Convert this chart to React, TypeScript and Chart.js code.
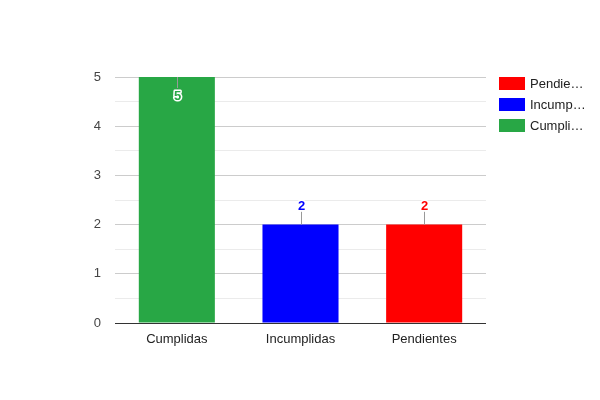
import React, { useEffect, useRef } from "react";
import { Chart, registerables } from "chart.js";

Chart.register(...registerables);

const categories = ["Cumplidas", "Incumplidas", "Pendientes"];
const values = [5, 2, 2];
const seriesColors = ["#28a745", "#0000ff", "#ff0000"];
const legendLabels = ["Pendie…", "Incump…", "Cumpli…"];
const yTicks = [0, 1, 2, 3, 4, 5];

const FONT = "Arial, 'Liberation Sans', sans-serif";

const annotationPlugin = {
  id: "annots",
  afterDatasetsDraw(chart: any) {
    const ctx = chart.ctx;
    const area = chart.chartArea;
    ctx.save();
    chart.data.datasets.forEach((ds: any, di: number) => {
      const meta = chart.getDatasetMeta(di);
      meta.data.forEach((el: any, i: number) => {
        const v = ds.data[i];
        if (v === null || v === undefined) return;
        const x = Math.round(el.x) + 0.5;
        const y = el.y;
        const room = y - area.top;
        let textY: number;
        ctx.strokeStyle = "#999999";
        ctx.lineWidth = 1;
        ctx.beginPath();
        if (room > 25) {
          ctx.moveTo(x, y);
          ctx.lineTo(x, y - 13);
          textY = y - 18;
        } else {
          ctx.moveTo(x, y);
          ctx.lineTo(x, y + 11);
          textY = y + 19;
        }
        ctx.stroke();
        ctx.font = "bold 13px " + FONT;
        ctx.textAlign = "center";
        ctx.textBaseline = "middle";
        ctx.lineWidth = 3;
        ctx.strokeStyle = "#ffffff";
        ctx.lineJoin = "round";
        ctx.strokeText(String(v), x, textY);
        ctx.fillStyle = ds.backgroundColor;
        ctx.fillText(String(v), x, textY);
      });
    });
    // legend
    const order = [2, 1, 0];
    order.forEach((di, k) => {
      const ds = chart.data.datasets[di];
      const top = 77 + k * 21;
      ctx.fillStyle = ds.backgroundColor;
      ctx.fillRect(499, top, 26, 13);
      ctx.font = "13px " + FONT;
      ctx.textAlign = "left";
      ctx.textBaseline = "middle";
      ctx.fillStyle = "#222222";
      ctx.fillText(legendLabels[k], 530, top + 7);
    });
    ctx.restore();
  },
};

export default function App() {
  const ref = useRef<HTMLCanvasElement>(null);
  useEffect(() => {
    if (!ref.current) return;
    const datasets = categories.map((c, i) => ({
      label: c,
      data: categories.map((_, j) => (j === i ? values[i] : null)),
      backgroundColor: seriesColors[i],
      borderWidth: 0,
      categoryPercentage: 1,
      barPercentage: 0.615,
    }));
    const chart = new Chart(ref.current, {
      type: "bar",
      data: { labels: categories, datasets },
      options: {
        animation: false,
        responsive: false,
        devicePixelRatio: 1,
        layout: { padding: { top: 77, right: 114, bottom: 0, left: 0 } },
        plugins: { legend: { display: false }, tooltip: { enabled: false } },
        scales: {
          x: {
            stacked: true,
            grid: { display: false, drawTicks: false },
            border: { display: false },
            ticks: { color: "#222222", font: { family: FONT, size: 13 }, padding: 9 },
            afterFit: (s: any) => {
              s.height = 77;
            },
          },
          y: {
            stacked: true,
            min: 0,
            max: 5,
            border: { display: false },
            grid: {
              drawTicks: false,
              color: (c: any) =>
                c.tick.value === 0 ? "#333333" : Number.isInteger(c.tick.value) ? "#cccccc" : "#ebebeb",
            },
            ticks: {
              stepSize: 0.5,
              padding: 14,
              color: "#444444",
              font: { family: FONT, size: 13 },
              callback: (v: any) => (yTicks.includes(v) ? String(v) : ""),
            },
            afterFit: (s: any) => {
              s.width = 115;
            },
          },
        },
      },
      plugins: [annotationPlugin],
    });
    return () => chart.destroy();
  }, []);
  return (
    <div style={{ position: "fixed", left: 0, top: 0, width: 600, height: 400, background: "#fff" }}>
      <canvas ref={ref} width={600} height={400} />
    </div>
  );
}
